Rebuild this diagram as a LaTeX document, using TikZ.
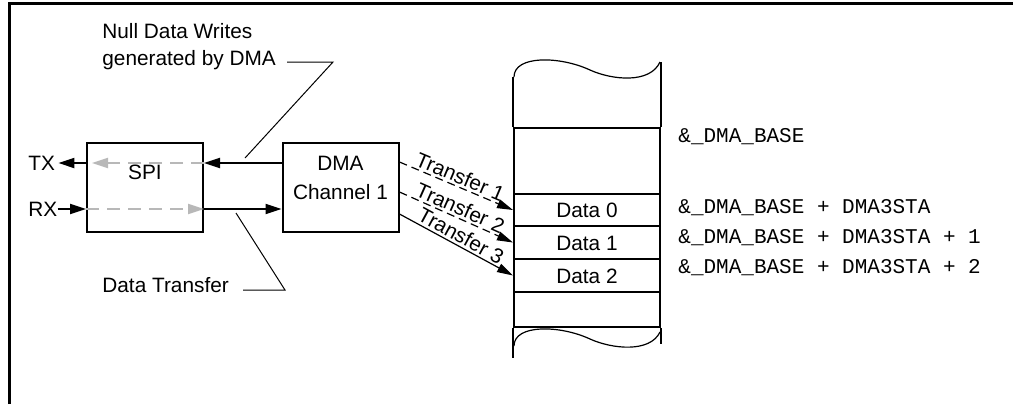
\documentclass[tikz,border=0pt]{standalone}
\usepackage{fontspec}
\setmainfont{Liberation Sans}
\setmonofont{Liberation Mono}
\usetikzlibrary{shapes.multipart,arrows.meta,positioning}

\begin{document}
\begin{tikzpicture}[x=0.5pt,y=-0.5pt,
        font=\fontsize{10.4}{12.5}\selectfont,
        blk/.style={draw,line width=1pt,minimum width=58pt,minimum height=44.5pt,inner sep=0pt},
        arr/.style={line width=1pt,-{Triangle[length=8pt,width=5pt]}},
        ghost/.style={draw=black!28,line width=1pt,dash pattern=on 6.5pt off 4pt,-{Triangle[length=8pt,width=5pt]}},
        xfer/.style={line width=0.6pt,-{Triangle[length=8pt,width=4.5pt]}},
        lead/.style={line width=0.5pt},
        addr/.style={anchor=west,inner sep=0pt,font=\ttfamily\fontsize{10.5}{12}\selectfont}]
        \useasboundingbox (0,0) rectangle (1013,404);
        \draw[line width=1.5pt] (9,404) -- (9,3) -- (1013,3);

        \node[anchor=west,inner sep=0pt] (tx) at (28,163) {TX};
        \node[anchor=west,inner sep=0pt] (rx) at (28,209) {RX};
        \node[blk,label={[yshift=7.5pt]center:SPI}] (spi) at (145,187.5) {};
        \node[blk,label={[yshift=5pt,align=center,font=\fontsize{10.4}{14.5}\selectfont]center:DMA\\Channel 1}] (dma) at (340.5,187.5) {};

        \draw[arr] (spi.west |- tx) -- ([xshift=1.5pt]tx.east);
        \draw[arr] (rx.east) -- (spi.west |- rx);
        \draw[ghost] (spi.east |- tx) -- ([xshift=3pt]spi.west |- tx);
        \draw[ghost] (spi.west |- rx) -- (spi.east |- rx);
        \draw[arr] (dma.west |- tx) -- (spi.east |- tx);
        \draw[arr] (spi.east |- rx) -- (dma.west |- rx);

        \node[rectangle split, rectangle split parts=5,draw,line width=1pt,inner ysep=0pt,minimum width=73pt,anchor=north] (mem) at (587,127)
        {
            \rule{0pt}{32pt}\nodepart{two}
            \rule[-3.9pt]{0pt}{15pt}Data 0\nodepart{three}
            \rule[-4pt]{0pt}{15.5pt}Data 1\nodepart{four}
            \rule[-4pt]{0pt}{15.5pt}Data 2\nodepart{five}
            \rule{0pt}{16.5pt}
            };
        \draw[line width=1pt] (mem.north west) -- ++(0,-50);
        \draw[line width=1pt] (mem.north east) -- ++(0,-65);
        \draw[line width=1pt] (mem.south west) -- ++(0,30);
        \draw[line width=1pt] (mem.south east) -- ++(0,16);
        \draw[line width=0.6pt] (514,77) .. controls (514,55) and (560,56) .. (590,70) .. controls (612,80) and (650,84) .. (660,62);
        \draw[line width=0.6pt] (514,346) .. controls (514,324) and (560,325) .. (590,339) .. controls (612,349) and (650,353) .. (660,332);

        \node[addr] (base) at (678,137) {\&\_DMA\_BASE};
        \node[addr] (sta0) at (678,208) {\&\_DMA\_BASE + DMA3STA};
        \node[addr] (sta1) at (678,238) {\&\_DMA\_BASE + DMA3STA + 1};
        \node[addr] (sta2) at (678,268) {\&\_DMA\_BASE + DMA3STA + 2};

        \draw[xfer,dash pattern=on 4pt off 2.5pt] ([yshift=12.75pt]dma.east) -- (mem.two west) node[midway,above,sloped,inner sep=1pt] {Transfer 1};
        \draw[xfer,dash pattern=on 4pt off 2.5pt] ([yshift=-2.25pt]dma.east) -- (mem.three west) node[midway,above,sloped,inner sep=1pt] {Transfer 2};
        \draw[xfer] ([yshift=-13.25pt]dma.east) -- (mem.four west) node[midway,above,sloped,inner sep=1pt] {Transfer 3};

        \node[anchor=west,align=left,inner sep=0pt,font=\fontsize{10.4}{13.5}\selectfont] (nulltxt) at (102,46.5) {Null Data Writes\\generated by DMA};
        \coordinate (nullbend) at (333,62);
        \coordinate (nullend) at (245,158);
        \draw[lead] ([xshift=5.5pt]nulltxt.east |- nullbend) -- (nullbend) -- (nullend);
        \node[anchor=west,inner sep=0pt] (xfertxt) at (102,285) {Data Transfer};
        \coordinate (xferbend) at (285,290);
        \coordinate (xferend) at (236,213);
        \draw[lead] ([xshift=7pt]xfertxt.east |- xferbend) -- (xferbend) -- (xferend);
    \end{tikzpicture}
\end{document}
